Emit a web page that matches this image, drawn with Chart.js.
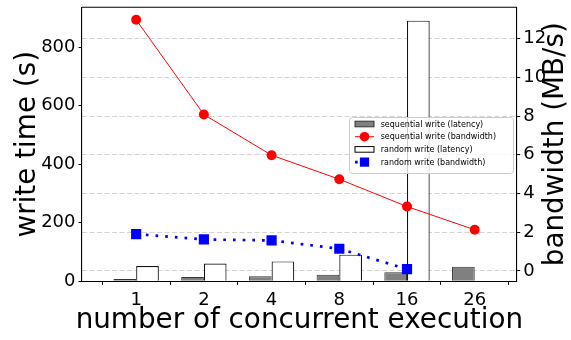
<!DOCTYPE html>
<html>
<head>
<meta charset="utf-8">
<script src="https://cdn.jsdelivr.net/npm/chart.js@4/dist/chart.umd.min.js"></script>
<style>
  html, body { margin: 0; padding: 0; background: #fff; }
  #wrap { width: 571px; height: 340px; }
</style>
</head>
<body>
<div id="wrap"><canvas id="c" width="571" height="340"></canvas></div>
<script>
// number of concurrent executions
const categories = ['1', '2', '4', '8', '16', '26'];
// write time in seconds (left axis)
const seqLatency = [8, 15, 17, 22, 31, 50];
const randLatency = [52, 61, 68, 91, 890, null];
// bandwidth in MB/s (right axis)
const seqBandwidth = [12.97, 8.08, 5.98, 4.74, 3.33, 2.13];
const randBandwidth = [1.91, 1.63, 1.58, 1.15, 0.10, null];
// axis tick values
const leftTicks = [0, 200, 400, 600, 800];
const rightTicks = [0, 2, 4, 6, 8, 10, 12];

const FONT = 'DejaVu Sans';
const toPoints = arr => arr.map((v, i) => ({ x: i, y: v }));

const legendItems = [
  { label: 'sequential write (latency)', kind: 'bar', fill: '#808080', stroke: '#333' },
  { label: 'sequential write (bandwidth)', kind: 'circle', color: '#ff0000' },
  { label: 'random write (latency)', kind: 'bar', fill: '#ffffff', stroke: '#000' },
  { label: 'random write (bandwidth)', kind: 'square', color: '#0000ff' }
];

// fixed axis sizes so the plot area sits at a known place
const fitWidth = w => s => { s.width = w; s.paddingTop = 0; s.paddingBottom = 0; };
const fitHeight = h => s => { s.height = h; s.paddingLeft = 0; s.paddingRight = 0; };

const decorations = {
  id: 'decorations',
  afterDraw(chart) {
    const ctx = chart.ctx;
    const a = chart.chartArea;
    ctx.save();
    // top spine
    ctx.strokeStyle = '#000';
    ctx.lineWidth = 1.1;
    ctx.beginPath();
    ctx.moveTo(a.left, a.top);
    ctx.lineTo(a.right, a.top);
    ctx.stroke();

    // axis titles
    ctx.fillStyle = '#000';
    ctx.font = '27.8px "' + FONT + '"';
    ctx.textAlign = 'center';
    ctx.textBaseline = 'alphabetic';
    ctx.fillText('number of concurrent execution', (a.left + a.right) / 2, 328);
    const midY = (a.top + a.bottom) / 2;
    ctx.save();
    ctx.translate(35, midY);
    ctx.rotate(-Math.PI / 2);
    ctx.fillText('write time (s)', 0, 0);
    ctx.restore();
    ctx.save();
    ctx.translate(563, midY);
    ctx.rotate(-Math.PI / 2);
    ctx.fillText('bandwidth (MB/s)', 0, 0);
    ctx.restore();

    // legend box
    const bx = 349.5, by = 117.5, bw = 164, bh = 56, r = 3;
    ctx.beginPath();
    ctx.moveTo(bx + r, by);
    ctx.lineTo(bx + bw - r, by);
    ctx.quadraticCurveTo(bx + bw, by, bx + bw, by + r);
    ctx.lineTo(bx + bw, by + bh - r);
    ctx.quadraticCurveTo(bx + bw, by + bh, bx + bw - r, by + bh);
    ctx.lineTo(bx + r, by + bh);
    ctx.quadraticCurveTo(bx, by + bh, bx, by + bh - r);
    ctx.lineTo(bx, by + r);
    ctx.quadraticCurveTo(bx, by, bx + r, by);
    ctx.closePath();
    ctx.fillStyle = 'rgba(255,255,255,0.8)';
    ctx.fill();
    ctx.strokeStyle = '#cccccc';
    ctx.lineWidth = 1;
    ctx.stroke();

    const rowY = [124, 136.7, 149.4, 162.1];
    const hx0 = 355, hx1 = 374, hc = 364.5;
    ctx.font = '8px "' + FONT + '"';
    ctx.textAlign = 'left';
    ctx.textBaseline = 'middle';
    legendItems.forEach((it, i) => {
      const y = rowY[i];
      if (it.kind === 'bar') {
        ctx.fillStyle = it.fill;
        ctx.fillRect(hx0, y - 2.8, hx1 - hx0, 5.6);
        ctx.strokeStyle = it.stroke;
        ctx.lineWidth = 1;
        ctx.strokeRect(hx0, y - 2.8, hx1 - hx0, 5.6);
      } else if (it.kind === 'circle') {
        ctx.strokeStyle = it.color;
        ctx.lineWidth = 1;
        ctx.beginPath();
        ctx.moveTo(hx0, y);
        ctx.lineTo(hx1, y);
        ctx.stroke();
        ctx.fillStyle = it.color;
        ctx.beginPath();
        ctx.arc(hc, y, 4.8, 0, Math.PI * 2);
        ctx.fill();
      } else {
        ctx.strokeStyle = it.color;
        ctx.lineWidth = 2.7;
        ctx.setLineDash([2.7, 7]);
        ctx.beginPath();
        ctx.moveTo(hx0, y);
        ctx.lineTo(hx1, y);
        ctx.stroke();
        ctx.setLineDash([]);
        ctx.fillStyle = it.color;
        ctx.fillRect(hc - 4.6, y - 4.6, 9.2, 9.2);
      }
      ctx.fillStyle = '#000';
      ctx.fillText(it.label, 380.7, y + 0.5);
    });
    ctx.restore();
  }
};

new Chart(document.getElementById('c'), {
  type: 'bar',
  data: {
    datasets: [
      {
        label: 'sequential write (latency)',
        data: toPoints(seqLatency),
        yAxisID: 'y',
        backgroundColor: '#808080',
        borderColor: '#333333',
        borderWidth: 1,
        categoryPercentage: 0.67,
        barPercentage: 1.0,
        order: 2
      },
      {
        label: 'random write (latency)',
        data: toPoints(randLatency),
        yAxisID: 'y',
        backgroundColor: '#ffffff',
        borderColor: '#111111',
        borderWidth: 1.2,
        categoryPercentage: 0.67,
        barPercentage: 1.0,
        order: 2
      },
      {
        type: 'line',
        label: 'sequential write (bandwidth)',
        data: toPoints(seqBandwidth),
        yAxisID: 'y1',
        borderColor: '#ff0000',
        borderWidth: 1,
        pointStyle: 'circle',
        pointRadius: 5,
        pointBackgroundColor: '#ff0000',
        pointBorderWidth: 0,
        tension: 0,
        order: 1
      },
      {
        type: 'line',
        label: 'random write (bandwidth)',
        data: toPoints(randBandwidth),
        yAxisID: 'y1',
        borderColor: '#0000ff',
        borderWidth: 2.7,
        borderDash: [2.7, 7],
        borderCapStyle: 'butt',
        pointStyle: 'rect',
        pointRadius: 7.2,
        pointBackgroundColor: '#0000ff',
        pointBorderWidth: 0,
        tension: 0,
        spanGaps: false,
        order: 0
      }
    ]
  },
  options: {
    responsive: false,
    animation: false,
    events: [],
    layout: { padding: { top: 6.7, left: 0, right: 0, bottom: 0 } },
    plugins: {
      legend: { display: false },
      tooltip: { enabled: false }
    },
    scales: {
      x: {
        type: 'linear',
        min: -0.8,
        max: 5.62,
        offset: false,
        afterFit: fitHeight(58.7),
        afterBuildTicks: s => { s.ticks = categories.map((_, i) => ({ value: i })); },
        ticks: {
          callback: v => categories[v],
          color: '#000',
          font: { family: FONT, size: 18 },
          padding: 5,
          maxRotation: 0,
          autoSkip: false
        },
        grid: {
          display: true,
          drawOnChartArea: false,
          drawTicks: true,
          tickLength: 3.5,
          tickColor: '#000',
          tickWidth: 1
        },
        border: { display: true, color: '#000', width: 1.1 }
      },
      y: {
        type: 'linear',
        position: 'left',
        min: 0,
        max: 936,
        afterFit: fitWidth(82),
        afterBuildTicks: s => { s.ticks = leftTicks.map(v => ({ value: v })); },
        ticks: {
          color: '#000',
          font: { family: FONT, size: 18 },
          padding: 3
        },
        grid: {
          display: true,
          drawOnChartArea: false,
          drawTicks: true,
          tickLength: 3.5,
          tickColor: '#000',
          tickWidth: 1
        },
        border: { display: true, color: '#000', width: 1.1 }
      },
      y1: {
        type: 'linear',
        position: 'right',
        min: -0.53,
        max: 13.62,
        afterFit: fitWidth(54.3),
        afterBuildTicks: s => { s.ticks = rightTicks.map(v => ({ value: v })); },
        ticks: {
          color: '#000',
          font: { family: FONT, size: 18 },
          padding: 3
        },
        grid: {
          display: true,
          drawOnChartArea: true,
          color: '#d4d4d4',
          lineWidth: 1.1,
          drawTicks: true,
          tickLength: 3.5,
          tickColor: '#000',
          tickWidth: 1,
          tickBorderDash: []
        },
        border: { display: true, color: '#000', width: 1.1, dash: [5, 2.5] }
      }
    }
  },
  plugins: [decorations]
});
</script>
</body>
</html>
